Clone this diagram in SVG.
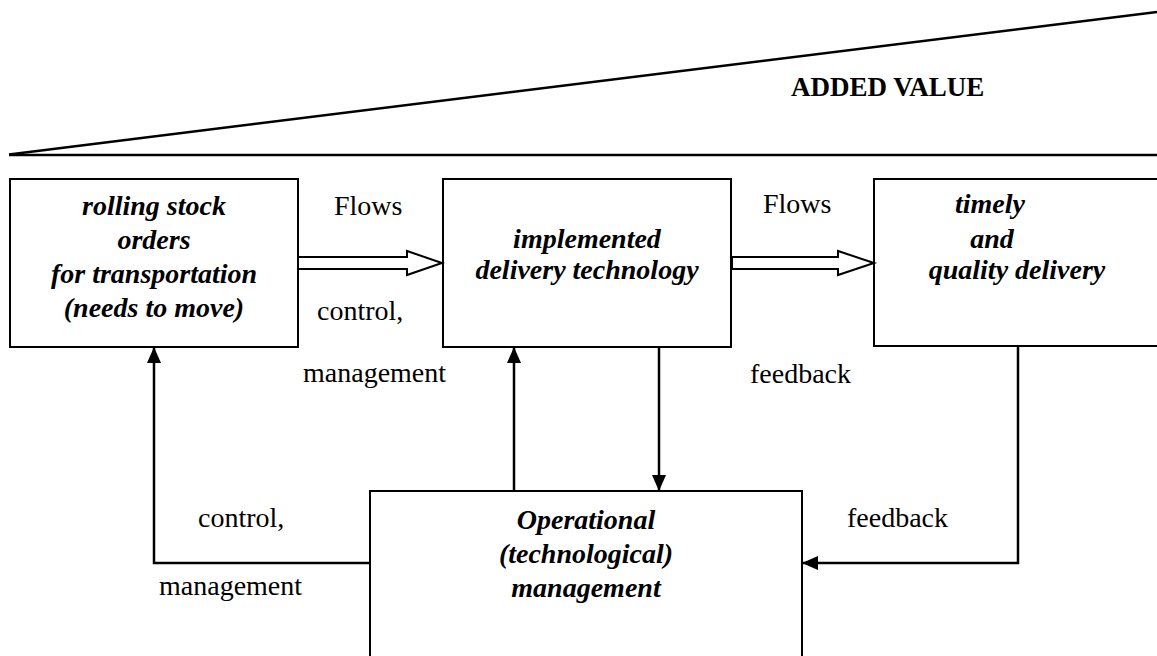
<svg xmlns="http://www.w3.org/2000/svg" width="1157" height="656" viewBox="0 0 1157 656">
<style>
.box{fill:#fff;stroke:#000;stroke-width:2}
.line{fill:none;stroke:#000;stroke-width:2.5}
.flow{fill:#fff;stroke:#000;stroke-width:2;stroke-linejoin:miter}
.lbl{font-family:"Liberation Serif","Times New Roman",serif;font-size:28px;fill:#000}
.nt{font-family:"Liberation Serif","Times New Roman",serif;font-size:28px;font-weight:bold;font-style:italic;fill:#000;text-anchor:middle}
.title{font-family:"Liberation Serif","Times New Roman",serif;font-size:27px;font-weight:bold;fill:#000}
</style>
<defs>
<marker id="ah" markerUnits="userSpaceOnUse" markerWidth="16" markerHeight="14" refX="16" refY="7" orient="auto">
<path d="M0,0 L16,7 L0,14 Z" fill="#000"/>
</marker>
</defs>
<rect width="1157" height="656" fill="#fff"/>
<g id="added-value">
<line x1="9" y1="154.5" x2="1157" y2="12" class="line"/>
<line x1="9" y1="155" x2="1157" y2="155" class="line"/>
<text x="791" y="96" class="title">ADDED VALUE</text>
</g>
<g id="node-orders">
<rect x="10" y="179" width="288" height="168" class="box"/>
<text class="nt" x="154" y="215">rolling stock</text>
<text class="nt" x="154" y="249">orders</text>
<text class="nt" x="154" y="283">for transportation</text>
<text class="nt" x="154" y="317">(needs to move)</text>
</g>
<g id="node-technology">
<rect x="443" y="179" width="288" height="168" class="box"/>
<text class="nt" x="587" y="248">implemented</text>
<text class="nt" x="587" y="279">delivery technology</text>
</g>
<g id="node-delivery">
<rect x="874" y="179" width="300" height="167" class="box"/>
<text class="nt" x="990" y="213">timely</text>
<text class="nt" x="992" y="248">and</text>
<text class="nt" x="1017" y="279">quality delivery</text>
</g>
<g id="node-operational">
<rect x="370" y="491" width="432" height="200" class="box"/>
<text class="nt" x="586" y="529">Operational</text>
<text class="nt" x="586" y="563">(technological)</text>
<text class="nt" x="586" y="597">management</text>
</g>
<g id="connectors">
<polygon class="flow" points="298,257 407,257 407,251 442,263 407,275 407,269 298,269"/>
<polygon class="flow" points="732,257 838,257 838,251 874,263 838,275 838,269 732,269"/>
<path class="line" d="M370,563 H154 V347" marker-end="url(#ah)"/>
<path class="line" d="M514,491 V347" marker-end="url(#ah)"/>
<path class="line" d="M659,347 V491" marker-end="url(#ah)"/>
<path class="line" d="M1018,346 V563 H802" marker-end="url(#ah)"/>
</g>
<g id="labels">
<text class="lbl" x="334" y="215">Flows</text>
<text class="lbl" x="763" y="213">Flows</text>
<text class="lbl" x="317" y="320">control,</text>
<text class="lbl" x="303" y="382">management</text>
<text class="lbl" x="750" y="383">feedback</text>
<text class="lbl" x="847" y="527">feedback</text>
<text class="lbl" x="198" y="527">control,</text>
<text class="lbl" x="159" y="595">management</text>
</g>
</svg>
